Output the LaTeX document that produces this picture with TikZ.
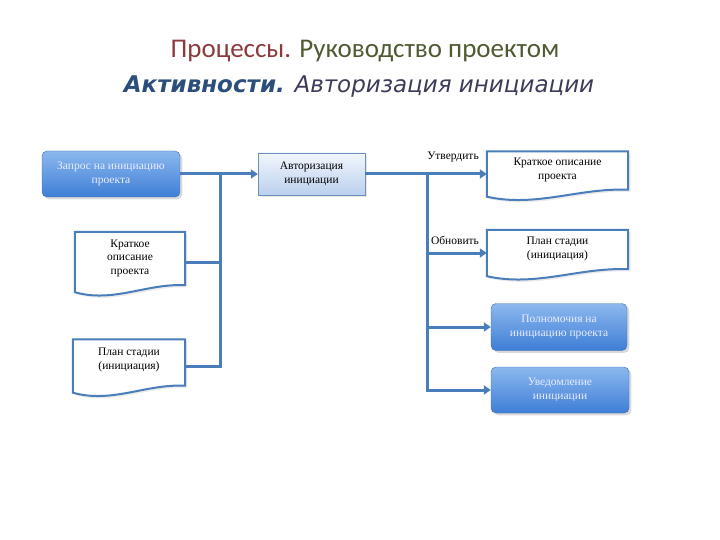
\documentclass[tikz,border=0pt]{standalone}
\usepackage{fontspec}
\setmainfont{Liberation Serif}
\newfontfamily\calibrifont{Carlito}
\newfontfamily\verdfont{DejaVu Sans}
\usetikzlibrary{arrows.meta,shadows,calc}

\definecolor{lineBlue}{RGB}{74,126,187}
\definecolor{boxEdge}{RGB}{60,110,180}
\definecolor{boxTop}{RGB}{140,184,238}
\definecolor{boxBottom}{RGB}{62,126,214}
\definecolor{authTop}{RGB}{242,246,252}
\definecolor{authBottom}{RGB}{186,208,238}
\definecolor{authEdge}{RGB}{110,143,191}
\definecolor{procRed}{RGB}{140,58,60}
\definecolor{procOlive}{RGB}{78,90,50}
\definecolor{actBlue}{RGB}{43,79,122}
\definecolor{actGrey}{RGB}{60,60,90}

\tikzset{
  flow/.style={draw=lineBlue, line width=3pt},
  arr/.style={flow, -{Triangle[length=7pt,width=9pt]}},
  boxfont/.style={font=\fontsize{11.5}{13.5}\selectfont},
  bluebox/.style={boxfont, rounded corners=5pt, draw=boxEdge, top color=boxTop, bottom color=boxBottom,
    text=white!92!blue, align=center, drop shadow={opacity=0.3}},
  authbox/.style={boxfont, draw=authEdge, top color=authTop, bottom color=authBottom, align=center,
    drop shadow={opacity=0.2}},
  docbox/.style={boxfont, align=center, inner sep=0pt},
  docline/.style={draw=lineBlue, line width=2pt, fill=white, drop shadow={opacity=0.15}},
  lbl/.style={boxfont, inner sep=1pt}
}

% wavy document outline round a node
\newcommand\docoutline[1]{%
  \draw[docline] (#1.south west) -- (#1.north west) -- (#1.north east) -- ([yshift=7pt]#1.south east)
    .. controls ($(#1.south west)!0.65!(#1.south east)+(0,-9)$) and ($(#1.south west)!0.35!(#1.south east)+(0,11)$) .. (#1.south west) -- cycle;}

\begin{document}
\begin{tikzpicture}[x=1pt,y=-1pt]
\useasboundingbox (0,0) rectangle (720,540);

% title
\node[anchor=center, font=\calibrifont\fontsize{27}{30}\selectfont] (title1) at (365,51)
  {\textcolor{procRed}{Процессы.} \textcolor{procOlive}{Руководство проектом}};
\node[anchor=center, font=\verdfont\fontsize{23}{26}\selectfont] (title2) at (359,87)
  {\textcolor{actBlue}{\bfseries\itshape Активности.} \textcolor{actGrey}{\itshape Авторизация инициации}};

% left side
\node[bluebox, minimum width=138pt, minimum height=46pt] (request) at (111,174) {Запрос на инициацию\\проекта};
\node[docbox, minimum width=110pt, minimum height=60pt] (briefL) at (130,262) {};
\docoutline{briefL}
\node[docbox] (briefLtxt) at (130,258) {Краткое\\описание\\проекта};
\node[docbox, minimum width=112pt, minimum height=53pt] (planL) at (129,366) {};
\docoutline{planL}
\node[docbox] (planLtxt) at (129,360) {План стадии\\(инициация)};

% centre
\node[authbox, minimum width=107pt, minimum height=42pt] (auth) at (311.5,174) {Авторизация\\инициации};

% right side
\node[docbox, minimum width=141pt, minimum height=45pt] (briefR) at (557.5,174) {};
\docoutline{briefR}
\node[docbox] (briefRtxt) at (557.5,170) {Краткое описание\\проекта};
\node[docbox, minimum width=141pt, minimum height=46pt] (planR) at (557.5,253) {};
\docoutline{planR}
\node[docbox] (planRtxt) at (557.5,249) {План стадии\\(инициация)};
\node[bluebox, minimum width=136pt, minimum height=47pt] (mandate) at (559,327) {Полномочия на\\инициацию проекта};
\node[bluebox, minimum width=138pt, minimum height=46pt] (notice) at (560,390) {Уведомление\\инициации};

% connectors
\coordinate (jL) at (220,174);
\coordinate (jR) at (427,174);
\draw[arr] (request.east) -- (auth.west);
\draw[flow] (briefL.east) -| (jL);
\draw[flow] (planL.east) -| (jL);
\draw[arr] (auth.east) -- (briefR.west);
\draw[arr] (jR) |- (planR.west);
\draw[arr] (jR) |- (mandate.west);
\draw[arr] (jR) |- (notice.west);

\node[lbl] (approve) at (453,157) {Утвердить};
\node[lbl] (update) at (455,240) {Обновить};
\end{tikzpicture}
\end{document}
